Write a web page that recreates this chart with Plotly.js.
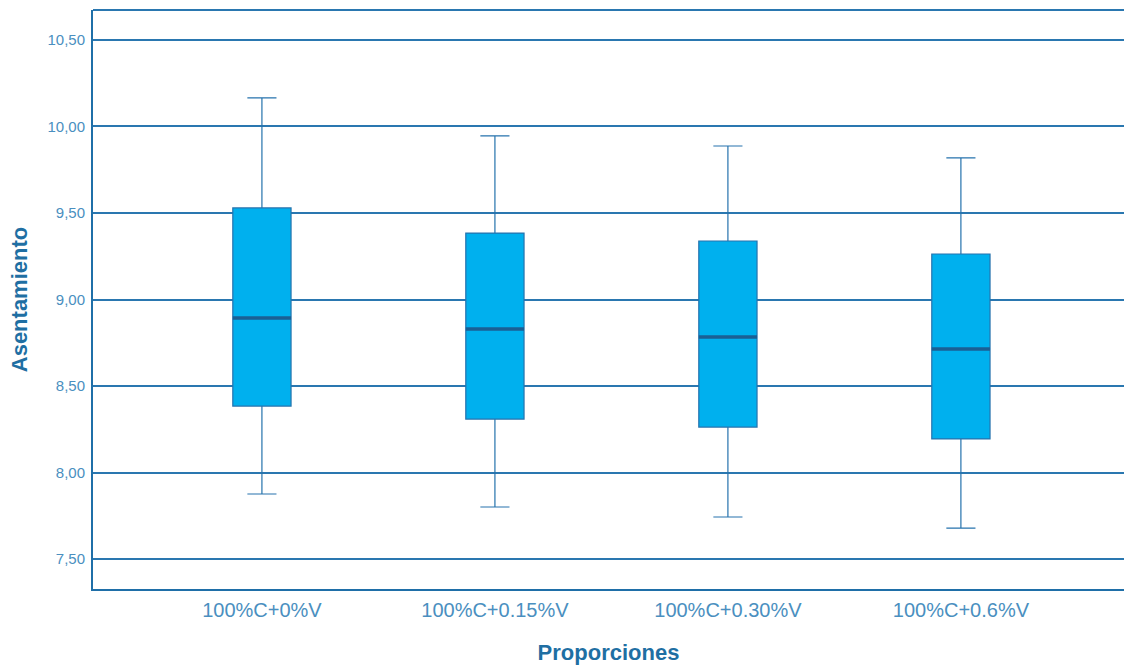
<!DOCTYPE html>
<html>
<head>
<meta charset="utf-8">
<script src="https://cdn.plot.ly/plotly-3.0.1.min.js"></script>
<style>html,body{margin:0;padding:0;background:#fff;}#chart{width:1124px;height:665px;}</style>
</head>
<body>
<div id="chart"></div>
<script>
const categories = ["100%C+0%V", "100%C+0.15%V", "100%C+0.30%V", "100%C+0.6%V"];
const lowerWhisker = [7.876, 7.801, 7.743, 7.679];
const q1Values = [8.384, 8.309, 8.263, 8.194];
const medianValues = [8.893, 8.829, 8.783, 8.714];
const q3Values = [9.529, 9.384, 9.338, 9.263];
const upperWhisker = [10.165, 9.945, 9.887, 9.818];
const yTicks = [7.5, 8.0, 8.5, 9.0, 9.5, 10.0, 10.5];

const idx = categories.map((c, i) => i);
const boxWidth = 0.25;

const trace = {
  type: 'box',
  x: idx,
  q1: q1Values,
  median: medianValues,
  q3: q3Values,
  lowerfence: lowerWhisker,
  upperfence: upperWhisker,
  width: boxWidth,
  whiskerwidth: 0.5,
  fillcolor: '#00b0ee',
  line: {color: '#2673ad', width: 1.2},
  boxpoints: false,
  hoverinfo: 'skip',
  showlegend: false
};

const medianShapes = idx.map(i => ({
  type: 'line', xref: 'x', yref: 'y',
  x0: i - boxWidth / 2, x1: i + boxWidth / 2,
  y0: medianValues[i], y1: medianValues[i],
  line: {color: '#1a5f94', width: 3.5},
  layer: 'above'
}));

const titleFont = {size: 22, color: '#1f6fa3', family: 'Liberation Sans, Arial, sans-serif', weight: 'bold'};

const layout = {
  width: 1124, height: 665,
  margin: {l: 93, r: 0, t: 10, b: 76},
  paper_bgcolor: '#fff', plot_bgcolor: '#fff',
  font: {family: 'Liberation Sans, Arial, sans-serif', color: '#3d8cc2'},
  xaxis: {
    range: [-0.725, 3.7],
    tickvals: idx, ticktext: categories,
    tickfont: {size: 20, color: '#4a8fc0'},
    showgrid: false, zeroline: false,
    showline: true, linecolor: '#1f6fa8', linewidth: 2,
    ticks: '', ticklabelstandoff: 2,
    title: {text: 'Proporciones', font: titleFont, standoff: 26}
  },
  yaxis: {
    range: [7.327, 10.673],
    tickvals: yTicks,
    tickformat: '.2f',
    tickfont: {size: 15, color: '#4a8fc0'},
    showgrid: true, gridcolor: '#2a77b0', gridwidth: 2,
    zeroline: false,
    showline: true, linecolor: '#1f6fa8', linewidth: 2,
    ticks: '', ticklabelstandoff: 3,
    title: {text: 'Asentamiento', font: titleFont, standoff: 14}
  },
  separators: ',.',
  shapes: medianShapes.concat([{
    type: 'line', xref: 'paper', yref: 'paper', x0: 0, x1: 1, y0: 1, y1: 1,
    line: {color: '#2a77b0', width: 2}
  }])
};

Plotly.newPlot('chart', [trace], layout, {displayModeBar: false, staticPlot: true});
</script>
</body>
</html>
